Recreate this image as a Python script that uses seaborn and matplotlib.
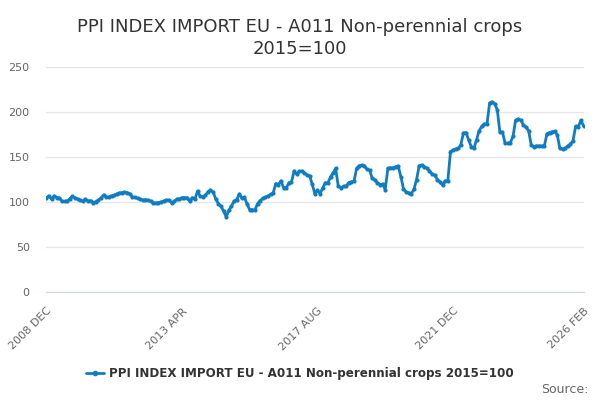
import pandas as pd
import matplotlib.pyplot as plt
import seaborn as sns
from matplotlib.lines import Line2D

# monthly index values, 2008 DEC .. 2026 FEB
values = [
    104.8, 106.7, 103.0, 106.7, 105.0, 104.5, 101.0, 100.7, 101.0, 103.7,
    106.3, 104.5, 103.3, 102.0, 101.0, 103.3, 101.0, 101.5, 99.3, 100.4,
    102.0, 104.5, 107.8, 105.6, 105.6, 107.0, 107.4, 109.0, 110.0, 110.4,
    110.8, 110.4, 109.3, 105.6, 105.2, 104.0, 103.0, 102.2, 102.6, 102.0,
    101.0, 99.3, 98.9, 99.3, 100.0, 101.0, 102.2, 102.0, 99.3, 100.7,
    103.3, 103.3, 104.8, 104.8, 104.8, 101.0, 104.8, 103.3, 112.2, 106.3,
    106.0, 107.4, 111.5, 113.4, 110.8, 103.7, 98.1, 95.2, 90.0, 83.3,
    90.7, 95.5, 101.0, 102.6, 108.9, 104.5, 105.2, 98.1, 91.5, 91.5,
    90.7, 98.1, 101.5, 104.0, 105.2, 106.7, 108.5, 109.7, 120.4, 119.3,
    123.4, 116.0, 115.6, 121.2, 121.9, 134.5, 130.8, 134.0, 134.3, 132.5,
    130.2, 129.1, 119.8, 109.3, 113.0, 109.3, 115.7, 121.3, 121.3, 128.0,
    132.5, 137.3, 117.5, 116.0, 117.5, 117.5, 121.6, 122.4, 122.8, 137.3,
    140.3, 140.7, 140.3, 136.2, 135.4, 126.9, 124.3, 121.6, 119.4, 119.8,
    113.8, 137.3, 138.0, 138.0, 139.2, 139.9, 128.0, 114.9, 111.2, 110.1,
    109.3, 114.2, 125.0, 140.3, 141.0, 139.2, 137.3, 134.7, 131.0, 129.9,
    125.0, 122.4, 118.7, 123.5, 123.5, 156.0, 157.8, 159.0, 159.7, 163.4,
    176.5, 177.2, 169.0, 161.6, 159.7, 169.0, 179.1, 184.0, 186.6, 186.6,
    210.0, 211.2, 209.0, 202.6, 177.6, 177.6, 165.3, 165.3, 166.0, 172.8,
    190.7, 192.2, 190.7, 185.8, 183.2, 179.1, 163.4, 161.6, 162.3, 162.3,
    162.3, 162.3, 175.7, 177.2, 178.0, 178.4, 174.6, 159.7, 158.6, 159.7,
    162.3, 164.2, 167.9, 184.0, 183.2, 190.7, 184.7,
]
months = pd.date_range("2008-12-01", periods=len(values), freq="MS")
series_name = "PPI INDEX IMPORT EU - A011 Non-perennial crops 2015=100"
tick_labels = {0: "2008 DEC", 52: "2013 APR", 104: "2017 AUG", 156: "2021 DEC", 206: "2026 FEB"}

df = pd.DataFrame({"month": months, "value": values})

sns.set_style("white")
line_color = "#0f7dc2"

fig = plt.figure(figsize=(6, 4), dpi=100)
ax = fig.add_axes([0.0773, 0.27, 0.8952, 0.5625])

sns.lineplot(data=df, x="month", y="value", ax=ax, color=line_color,
             linewidth=2.0, marker="o", markersize=3, markeredgewidth=0)

ax.set_ylim(0, 250)
ax.set_xlim(months[0], months[-1])
ax.set_yticks(range(0, 251, 50))
ax.yaxis.grid(True, color="#e6e6e6", linewidth=1)
ax.set_axisbelow(True)

tick_idx = list(range(0, len(values), 13)) + [len(values) - 1]
ax.set_xticks([months[i] for i in tick_idx])
ax.set_xticklabels([tick_labels.get(i, "") for i in tick_idx], rotation=45,
                   ha="right", rotation_mode="anchor")
ax.tick_params(axis="x", length=7, width=1, color="#ccd6eb", labelsize=8, labelcolor="#666666", pad=3)
ax.tick_params(axis="y", length=0, labelsize=8, labelcolor="#666666", pad=12)
ax.set_xlabel("")
ax.set_ylabel("")

for side in ["left", "right", "top"]:
    ax.spines[side].set_visible(False)
ax.spines["bottom"].set_color("#ccd6eb")

fig.text(0.5, 0.955, "PPI INDEX IMPORT EU - A011 Non-perennial crops\n2015=100",
         ha="center", va="top", fontsize=13, color="#333333", linespacing=1.25)

handle = Line2D([], [], color=line_color, linewidth=2, marker="o", markersize=3)
fig.legend([handle], [series_name], loc="center", bbox_to_anchor=(0.5, 0.065),
           frameon=False, handlelength=1.5, handletextpad=0.4,
           prop={"size": 8.6, "weight": "bold"}, labelcolor="#333333")

fig.text(0.98, 0.027, "Source:", ha="right", va="center", fontsize=9, color="#666666")

fig.savefig("out.png", dpi=100)
